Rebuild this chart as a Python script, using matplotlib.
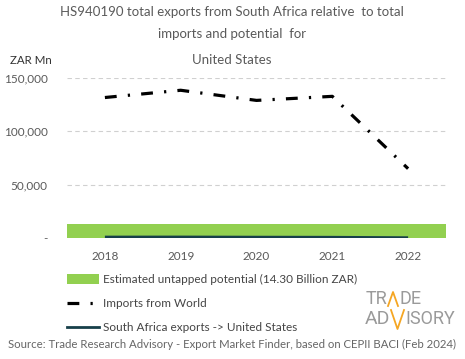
import matplotlib.pyplot as plt
from matplotlib.lines import Line2D
from matplotlib.patches import Patch

plt.rcParams['font.family'] = ['Lato', 'DejaVu Sans']

years = ['2018', '2019', '2020', '2021', '2022']
imports_world = [131700, 138500, 129000, 132800, 65000]
sa_exports = [900, 950, 800, 700, 300]
potential_band = 12700
potential_label = 'Estimated untapped potential (14.30 Billion ZAR)'
y_ticks = [0, 50000, 100000, 150000]
y_tick_labels = ['-', '50,000', '100,000', '150,000']

GREEN = '#92d050'
TEAL = '#17404a'
GRAY = '#5a5a5a'

fig = plt.figure(figsize=(4.65, 3.59), dpi=100)
ax = fig.add_axes([67 / 465, 1 - 238 / 359, (446 - 67) / 465, (238 - 78) / 359])

x = range(len(years))
ax.axhspan(0, potential_band, color=GREEN, lw=0, zorder=1)
ax.plot(x, sa_exports, color=TEAL, lw=2, zorder=3, solid_capstyle='butt')
ax.plot(x, imports_world, color='black', lw=2.3, zorder=4,
        dashes=(3.7, 3.5, 0.7, 3.5), dash_capstyle='butt')

ax.set_xlim(-0.5, len(years) - 0.5)
ax.set_ylim(0, 150000)
ax.set_xticks(list(x))
ax.set_xticklabels(years)
ax.set_yticks(y_ticks)
ax.set_yticklabels(y_tick_labels)
ax.tick_params(length=0, labelsize=8.5, colors=GRAY)
ax.tick_params(axis='y', pad=14)
ax.tick_params(axis='x', pad=9)
for s in ax.spines.values():
    s.set_visible(False)
for v in y_ticks[1:]:
    ax.axhline(v, color='#d0d0d0', lw=0.8, ls=(0, (4, 3)), zorder=0)

# titles
fig.text(232 / 465, 1 - 12 / 359, 'HS940190 total exports from South Africa relative  to total',
         ha='center', va='center', fontsize=9.5, color=GRAY)
fig.text(232 / 465, 1 - 34 / 359, 'imports and potential  for',
         ha='center', va='center', fontsize=9.5, color=GRAY)
fig.text(232 / 465, 1 - 60 / 359, 'United States',
         ha='center', va='center', fontsize=9.5, color=GRAY)
fig.text(10 / 465, 1 - 61 / 359, 'ZAR Mn', ha='left', va='center', fontsize=8.3, color='#333333')

# legend
handles = [
    Patch(facecolor=GREEN, edgecolor='none'),
    Line2D([], [], color='black', lw=2.3, dashes=(3.7, 3.5, 0.7, 3.5), dash_capstyle='butt'),
    Line2D([], [], color=TEAL, lw=2),
]
labels = [potential_label, 'Imports from World', 'South Africa exports -> United States']
fig.legend(handles, labels, loc='upper left', bbox_to_anchor=(67 / 465, 1 - 274 / 359),
           frameon=False, fontsize=8.5, labelcolor='#444444', handlelength=2.7,
           handleheight=0.9, handletextpad=0.35, labelspacing=1.1, borderpad=0,
           borderaxespad=0)

# source
fig.text(232 / 465, 1 - 344 / 359,
         'Source: Trade Research Advisory - Export Market Finder, based on CEPII BACI (Feb 2024)',
         ha='center', va='center', fontsize=8.2, color='#666666')

# logo
logo_gray = '#9a9a9a'
orange = '#f5a623'
lf = ['Roboto', 'DejaVu Sans']
fig.text(387 / 465, 1 - 299 / 359, 'TR', ha='right', va='center', fontsize=13,
         color=logo_gray, family=lf)
fig.text(399 / 465, 1 - 299 / 359, 'DE', ha='left', va='center', fontsize=13,
         color=logo_gray, family=lf)
fig.text(390 / 465, 1 - 319.5 / 359, 'AD', ha='right', va='center', fontsize=14,
         color=logo_gray, family=lf)
fig.text(405 / 465, 1 - 319.5 / 359, 'ISORY', ha='left', va='center', fontsize=13,
         color=logo_gray, family=lf)
fig.add_artist(Line2D([388 / 465, 393 / 465, 398 / 465],
                      [1 - 306 / 359, 1 - 292 / 359, 1 - 306 / 359],
                      color=orange, lw=1.3, transform=fig.transFigure))
fig.add_artist(Line2D([391 / 465, 397.5 / 465, 404 / 465],
                      [1 - 310 / 359, 1 - 329 / 359, 1 - 310 / 359],
                      color=orange, lw=1.3, transform=fig.transFigure))

fig.savefig('out.png', dpi=100)
